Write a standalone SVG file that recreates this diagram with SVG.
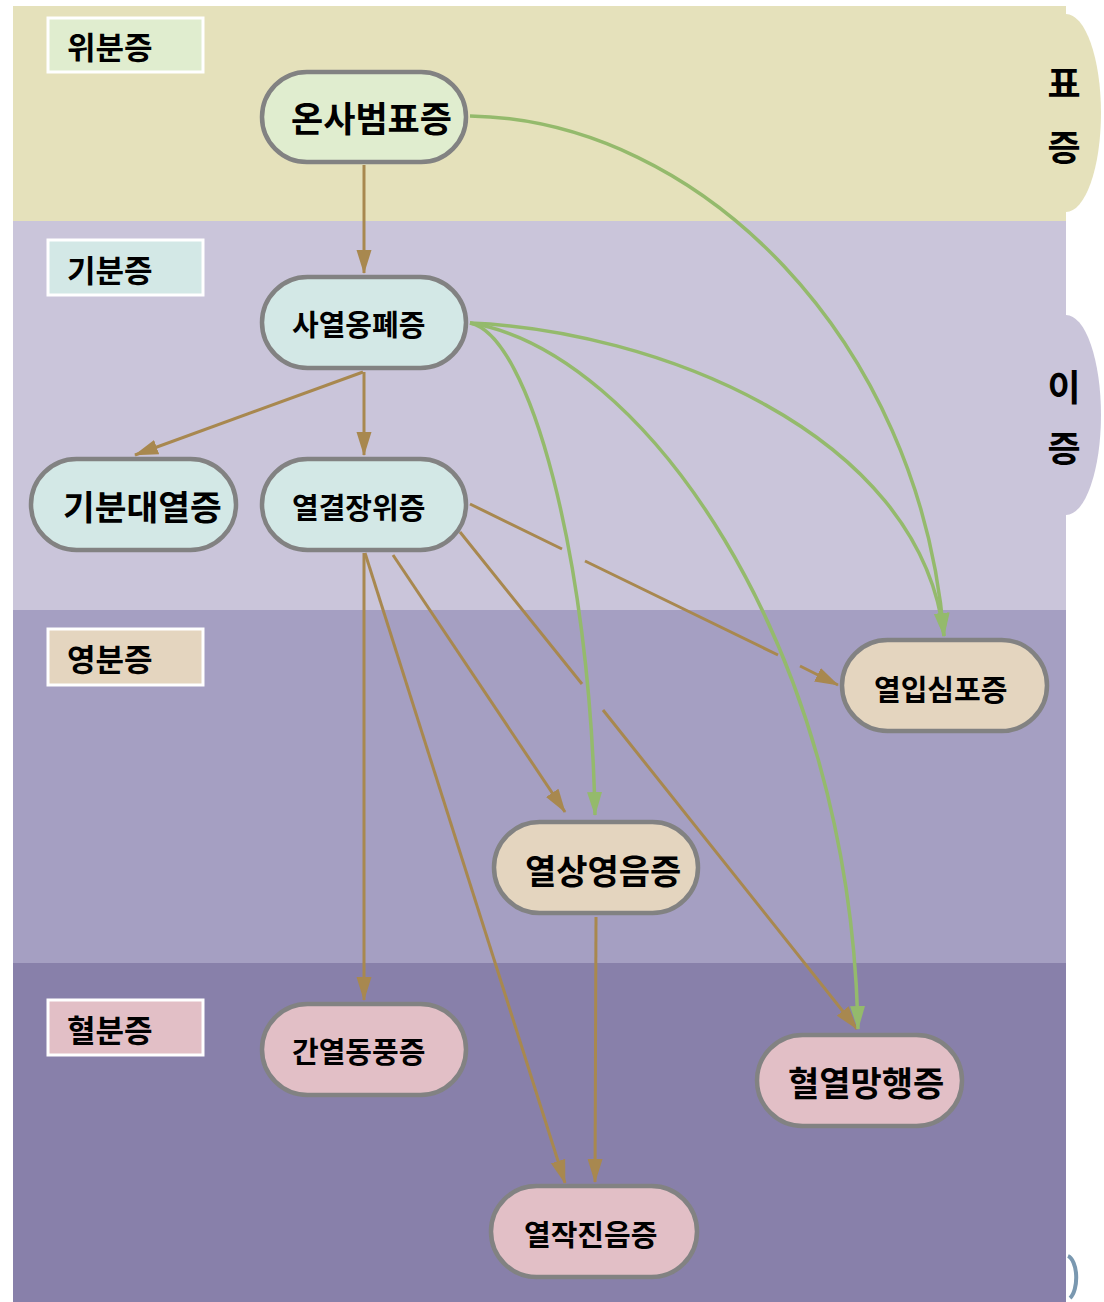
<svg xmlns="http://www.w3.org/2000/svg" width="1104" height="1302" viewBox="0 0 1104 1302">
<style>
.t{font-family:"Noto Sans CJK KR","Noto Sans",sans-serif;font-weight:700;fill:#000}
.lb{stroke:#ffffff;stroke-width:3}
.nd{stroke:#828282;stroke-width:4.5}
.br{fill:none;stroke:#a8884f;stroke-width:3}
.gr{fill:none;stroke:#94ba6c;stroke-width:3.5}
</style>
<defs>
<marker id="ab" markerUnits="userSpaceOnUse" markerWidth="24" markerHeight="16" refX="23" refY="8" orient="auto" viewBox="0 0 24 16"><path d="M0,0.5 L24,8 L0,15.5 z" fill="#a8884f"/></marker>
<marker id="ag" markerUnits="userSpaceOnUse" markerWidth="24" markerHeight="16" refX="23" refY="8" orient="auto" viewBox="0 0 24 16"><path d="M0,0.5 L24,8 L0,15.5 z" fill="#94ba6c"/></marker>
</defs>
<rect width="1104" height="1302" fill="#ffffff"/>
<g id="bands">
<rect x="13" y="6" width="1053" height="215" fill="#e5e1bb"/>
<path d="M1066,14 A35,99 0 0 1 1066,212 Z" fill="#e5e1bb"/>
<rect x="13" y="221" width="1053" height="389" fill="#cac5da"/>
<path d="M1066,315 A35,100 0 0 1 1066,515 Z" fill="#cac5da"/>
<rect x="13" y="610" width="1053" height="353" fill="#a59fc2"/>
<rect x="13" y="963" width="1053" height="339" fill="#8880aa"/>
<path d="M1068,1256 A10,22 0 0 1 1070,1298" fill="none" stroke="#7a98b0" stroke-width="4"/>
<text class="t" x="1064" y="97" font-size="36" text-anchor="middle">표</text>
<text class="t" x="1064" y="161" font-size="36" text-anchor="middle">증</text>
<text class="t" x="1064" y="401" font-size="36" text-anchor="middle">이</text>
<text class="t" x="1064" y="462" font-size="36" text-anchor="middle">증</text>
</g>
<g id="label-wibun"><rect class="lb" x="48" y="18" width="155" height="54" fill="#e0edcf"/><text class="t" x="67" y="59" font-size="31">위분증</text></g>
<g id="label-gibun"><rect class="lb" x="48" y="240" width="155" height="55" fill="#d3e8e6"/><text class="t" x="67" y="282" font-size="31">기분증</text></g>
<g id="label-yeongbun"><rect class="lb" x="48" y="629" width="155" height="56" fill="#e4d5bf"/><text class="t" x="67" y="671" font-size="31">영분증</text></g>
<g id="label-hyeolbun"><rect class="lb" x="48" y="1000" width="155" height="55" fill="#e2bfc6"/><text class="t" x="67" y="1042" font-size="31">혈분증</text></g>
<g id="connectors">
<path class="br" d="M364,165 L364,273" marker-end="url(#ab)"/>
<path class="br" d="M363,372 L135,455" marker-end="url(#ab)"/>
<path class="br" d="M364,372 L364,455" marker-end="url(#ab)"/>
<path class="br" d="M470,504 L562,549 M585,561 L778,655 M800,666 L838,685" marker-end="url(#ab)"/>
<path class="br" d="M393,555 L565,812" marker-end="url(#ab)"/>
<path class="br" d="M364,553 L364,1000" marker-end="url(#ab)"/>
<path class="br" d="M365,553 L565,1183" marker-end="url(#ab)"/>
<path class="br" d="M596,917 L595,1182" marker-end="url(#ab)"/>
<path class="br" d="M460,532 L582,684 M603,710 L857,1029" marker-end="url(#ab)"/>
<path class="gr" d="M470,116 C700,120 920,340 944,636" marker-end="url(#ag)"/>
<path class="gr" d="M470,323 C650,330 920,430 944,636" marker-end="url(#ag)"/>
<path class="gr" d="M470,323 C530,335 590,560 595,815" marker-end="url(#ag)"/>
<path class="gr" d="M470,323 C640,350 850,640 858,1029" marker-end="url(#ag)"/>
</g>
<g id="n-onsabeompyo"><rect class="nd" x="262" y="72" width="204" height="90" rx="45" fill="#e0edcf"/><text class="t" x="291" y="132" font-size="35">온사범표증</text></g>
<g id="n-sayeolongpye"><rect class="nd" x="262" y="277" width="204" height="91" rx="45.5" fill="#d3e8e6"/><text class="t" x="292" y="336" font-size="29">사열옹폐증</text></g>
<g id="n-gibundaeyeol"><rect class="nd" x="31" y="459" width="205" height="91" rx="45.5" fill="#d3e8e6"/><text class="t" x="63" y="520" font-size="34.5">기분대열증</text></g>
<g id="n-yeolgyeoljangwi"><rect class="nd" x="262" y="459" width="204" height="91" rx="45.5" fill="#d3e8e6"/><text class="t" x="292" y="519" font-size="29">열결장위증</text></g>
<g id="n-yeolipsimpo"><rect class="nd" x="842" y="640" width="205" height="91" rx="45.5" fill="#e4d5bf"/><text class="t" x="874" y="701" font-size="29">열입심포증</text></g>
<g id="n-yeolsangyeongeum"><rect class="nd" x="494" y="822" width="204" height="91" rx="45.5" fill="#e4d5bf"/><text class="t" x="525" y="884" font-size="34">열상영음증</text></g>
<g id="n-ganyeoldongpung"><rect class="nd" x="262" y="1004" width="204" height="91" rx="45.5" fill="#e2bfc6"/><text class="t" x="292" y="1063" font-size="29">간열동풍증</text></g>
<g id="n-hyeolyeolmanghaeng"><rect class="nd" x="757" y="1035" width="205" height="91" rx="45.5" fill="#e2bfc6"/><text class="t" x="788" y="1096" font-size="34">혈열망행증</text></g>
<g id="n-yeoljakjineum"><rect class="nd" x="491" y="1186" width="206" height="91" rx="45.5" fill="#e2bfc6"/><text class="t" x="524" y="1246" font-size="29">열작진음증</text></g>
</svg>
